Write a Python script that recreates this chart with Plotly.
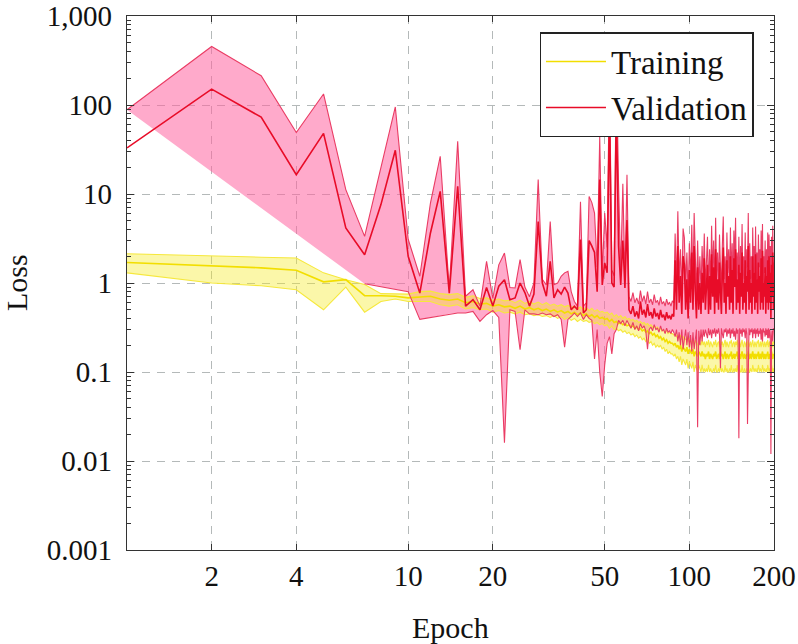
import plotly.graph_objects as go

epochs = list(range(1, 201))

train_mean = [
    1.70, 1.56, 1.48, 1.39, 1.03, 1.09, 0.72, 0.72, 0.71, 0.68,
    0.70, 0.71, 0.66, 0.64, 0.66, 0.60, 0.62, 0.58, 0.59, 0.55,
    0.57, 0.54, 0.55, 0.52, 0.55, 0.51, 0.53, 0.50, 0.52, 0.49,
    0.51, 0.48, 0.50, 0.47, 0.49, 0.46, 0.48, 0.45, 0.47, 0.44,
    0.46, 0.43, 0.45, 0.42, 0.44, 0.41, 0.43, 0.40, 0.41, 0.39,
    0.40, 0.37, 0.39, 0.36, 0.37, 0.35, 0.36, 0.34, 0.35, 0.33,
    0.34, 0.32, 0.33, 0.31, 0.32, 0.30, 0.31, 0.29, 0.30, 0.28,
    0.29, 0.27, 0.28, 0.26, 0.27, 0.25, 0.26, 0.24, 0.25, 0.23,
    0.24, 0.22, 0.23, 0.21, 0.22, 0.21, 0.21, 0.20, 0.21, 0.19,
    0.20, 0.18, 0.20, 0.17, 0.19, 0.18, 0.17, 0.19, 0.16, 0.18,
    0.17, 0.16, 0.18, 0.15, 0.17, 0.16, 0.15, 0.17, 0.16, 0.15,
    0.17, 0.15, 0.16, 0.14, 0.16, 0.15, 0.17, 0.14, 0.16, 0.15,
    0.14, 0.16, 0.15, 0.17, 0.14, 0.15, 0.16, 0.14, 0.17, 0.15,
    0.16, 0.14, 0.15, 0.17, 0.14, 0.16, 0.15, 0.14, 0.16, 0.15,
    0.17, 0.14, 0.15, 0.16, 0.14, 0.16, 0.15, 0.17, 0.14, 0.15,
    0.16, 0.14, 0.15, 0.17, 0.15, 0.14, 0.16, 0.15, 0.14, 0.16,
    0.15, 0.17, 0.14, 0.15, 0.16, 0.14, 0.15, 0.17, 0.15, 0.14,
    0.16, 0.15, 0.14, 0.16, 0.15, 0.17, 0.14, 0.15, 0.16, 0.14,
    0.15, 0.17, 0.15, 0.14, 0.16, 0.15, 0.14, 0.16, 0.15, 0.17,
    0.14, 0.15, 0.16, 0.14, 0.15, 0.17, 0.15, 0.14, 0.16, 0.15,
]

train_high = [
    2.13, 1.99, 1.95, 1.91, 1.30, 1.09, 0.96, 0.76, 0.76, 0.75,
    0.80, 0.81, 0.76, 0.74, 0.76, 0.69, 0.72, 0.67, 0.68, 0.64,
    0.66, 0.63, 0.64, 0.60, 0.64, 0.59, 0.62, 0.58, 0.61, 0.57,
    0.60, 0.56, 0.58, 0.55, 0.57, 0.54, 0.56, 0.53, 0.55, 0.51,
    0.54, 0.50, 0.53, 0.49, 0.52, 0.48, 0.50, 0.47, 0.48, 0.46,
    0.47, 0.44, 0.46, 0.42, 0.44, 0.41, 0.43, 0.40, 0.42, 0.39,
    0.40, 0.38, 0.39, 0.37, 0.38, 0.36, 0.37, 0.35, 0.36, 0.34,
    0.35, 0.33, 0.34, 0.32, 0.33, 0.31, 0.32, 0.30, 0.31, 0.29,
    0.30, 0.28, 0.29, 0.27, 0.28, 0.27, 0.27, 0.26, 0.27, 0.25,
    0.26, 0.24, 0.26, 0.23, 0.25, 0.24, 0.23, 0.25, 0.22, 0.24,
    0.23, 0.21, 0.24, 0.20, 0.23, 0.21, 0.20, 0.23, 0.21, 0.20,
    0.23, 0.20, 0.22, 0.19, 0.22, 0.20, 0.23, 0.19, 0.22, 0.20,
    0.19, 0.22, 0.20, 0.23, 0.19, 0.21, 0.22, 0.19, 0.23, 0.20,
    0.22, 0.19, 0.21, 0.23, 0.19, 0.22, 0.20, 0.19, 0.22, 0.21,
    0.23, 0.19, 0.21, 0.22, 0.19, 0.22, 0.20, 0.23, 0.19, 0.21,
    0.22, 0.19, 0.21, 0.23, 0.20, 0.19, 0.22, 0.21, 0.19, 0.22,
    0.20, 0.23, 0.19, 0.21, 0.22, 0.19, 0.21, 0.23, 0.20, 0.19,
    0.22, 0.20, 0.19, 0.22, 0.21, 0.23, 0.19, 0.20, 0.22, 0.19,
    0.21, 0.23, 0.20, 0.19, 0.22, 0.21, 0.19, 0.22, 0.20, 0.23,
    0.19, 0.21, 0.22, 0.19, 0.20, 0.23, 0.21, 0.19, 0.22, 0.21,
]

train_low = [
    1.30, 1.00, 0.93, 0.84, 0.50, 0.90, 0.47, 0.62, 0.66, 0.62,
    0.62, 0.62, 0.57, 0.55, 0.57, 0.51, 0.53, 0.50, 0.51, 0.47,
    0.49, 0.46, 0.47, 0.45, 0.47, 0.44, 0.45, 0.43, 0.44, 0.42,
    0.43, 0.41, 0.43, 0.40, 0.42, 0.39, 0.41, 0.38, 0.40, 0.37,
    0.39, 0.37, 0.38, 0.36, 0.37, 0.35, 0.36, 0.34, 0.35, 0.33,
    0.34, 0.31, 0.33, 0.30, 0.31, 0.29, 0.30, 0.28, 0.29, 0.27,
    0.28, 0.26, 0.27, 0.25, 0.26, 0.24, 0.25, 0.23, 0.24, 0.22,
    0.23, 0.21, 0.22, 0.20, 0.21, 0.19, 0.20, 0.19, 0.20, 0.18,
    0.19, 0.17, 0.18, 0.16, 0.17, 0.16, 0.16, 0.15, 0.16, 0.14,
    0.15, 0.13, 0.15, 0.12, 0.14, 0.13, 0.12, 0.14, 0.11, 0.13,
    0.12, 0.11, 0.13, 0.10, 0.12, 0.11, 0.10, 0.12, 0.11, 0.10,
    0.12, 0.10, 0.11, 0.10, 0.11, 0.10, 0.12, 0.10, 0.11, 0.10,
    0.10, 0.11, 0.10, 0.12, 0.10, 0.10, 0.11, 0.10, 0.12, 0.10,
    0.11, 0.10, 0.10, 0.12, 0.10, 0.11, 0.10, 0.10, 0.11, 0.10,
    0.12, 0.10, 0.10, 0.11, 0.10, 0.11, 0.10, 0.12, 0.10, 0.10,
    0.11, 0.10, 0.10, 0.12, 0.10, 0.10, 0.11, 0.10, 0.10, 0.11,
    0.10, 0.12, 0.10, 0.10, 0.11, 0.10, 0.10, 0.12, 0.10, 0.10,
    0.11, 0.10, 0.10, 0.11, 0.10, 0.12, 0.10, 0.10, 0.11, 0.10,
    0.10, 0.12, 0.10, 0.10, 0.11, 0.10, 0.10, 0.11, 0.10, 0.12,
    0.10, 0.10, 0.11, 0.10, 0.10, 0.12, 0.10, 0.10, 0.11, 0.10,
]

val_mean = [
    33, 151, 73, 16.5, 48, 4.15, 2.08, 7.6, 31, 2.0,
    0.77, 3.65, 10.7, 0.77, 12.2, 0.55, 0.65, 0.50, 0.89, 0.55,
    0.92, 1.09, 0.65, 0.68, 1.0, 0.78, 0.55, 0.75, 4.9, 1.0,
    0.71, 1.75, 0.68, 0.84, 0.75, 0.9, 0.77, 0.5, 0.55, 0.50,
    3.07, 0.46, 0.5, 3.0, 2.6, 2.2, 0.8, 14.5, 0.95, 1.68,
    1.3, 80, 1.0, 0.9, 100, 2.6, 0.95, 3.0, 0.88, 5.1,
    0.50, 0.45, 0.55, 0.42, 0.48, 0.40, 0.62, 0.44, 0.50, 0.41,
    0.58, 0.43, 0.47, 0.40, 0.52, 0.42, 0.46, 0.39, 0.50, 0.41,
    0.44, 0.38, 0.47, 0.40, 0.43, 0.39, 0.45, 0.42, 1.8, 0.5,
    2.6, 0.6, 1.2, 0.45, 2.0, 1.6, 0.5, 1.1, 0.4, 1.4,
    0.6, 2.2, 0.5, 2.6, 0.8, 0.4, 1.5, 0.5, 1.0, 0.45,
    1.3, 0.6, 1.9, 0.5, 0.9, 1.6, 0.45, 1.2, 0.5, 2.1,
    0.7, 1.5, 0.45, 2.4, 0.6, 1.1, 0.5, 1.7, 0.8, 0.45,
    1.3, 2.5, 0.6, 1.0, 0.45, 1.8, 0.7, 1.2, 0.5, 2.0,
    0.6, 1.4, 0.45, 1.9, 0.9, 2.4, 0.5, 1.1, 0.6, 1.6,
    0.45, 1.3, 0.7, 2.2, 0.5, 1.0, 0.6, 1.8, 0.45, 1.2,
    0.8, 2.6, 0.5, 1.4, 0.6, 1.0, 0.45, 2.0, 0.7, 1.3,
    0.5, 2.1, 0.6, 1.1, 0.45, 1.7, 0.8, 1.2, 0.5, 1.9,
    0.6, 2.3, 0.5, 1.0, 0.7, 1.5, 0.45, 1.2, 0.6, 1.8,
    0.5, 2.0, 0.6, 1.3, 0.4, 1.6, 0.7, 2.2, 0.5, 0.9,
]

val_high = [
    88.5, 455, 213, 49, 133, 11.2, 3.34, 19, 95, 3.1,
    1.19, 7.9, 26.5, 0.85, 39, 0.71, 0.84, 0.55, 1.75, 0.67,
    1.6, 2.17, 0.89, 0.88, 1.83, 0.9, 0.7, 1.0, 14.5, 1.1,
    0.95, 4.9, 0.96, 1.0, 1.19, 1.3, 1.35, 0.8, 0.62, 0.55,
    8.2, 0.55, 0.6, 9.4, 8.0, 6.1, 1.5, 44, 1.2, 6.1,
    2.5, 250, 1.4, 1.2, 300, 13, 1.3, 13, 1.1, 16.5,
    0.70, 0.62, 0.78, 0.60, 0.68, 0.58, 0.82, 0.62, 0.72, 0.58,
    0.80, 0.60, 0.66, 0.57, 0.74, 0.60, 0.64, 0.56, 0.70, 0.58,
    0.62, 0.55, 0.66, 0.57, 0.61, 0.55, 0.63, 0.60, 3.6, 0.9,
    6.4, 1.1, 2.4, 0.8, 4.1, 3.2, 0.9, 2.2, 0.7, 2.8,
    1.1, 4.5, 0.9, 6.1, 1.5, 0.7, 3.0, 0.9, 2.0, 0.8,
    2.6, 1.1, 3.6, 0.9, 1.7, 3.3, 0.8, 2.4, 0.9, 4.4,
    1.3, 3.0, 0.8, 5.4, 1.1, 2.2, 0.9, 3.5, 1.5, 0.8,
    2.6, 5.6, 1.1, 2.0, 0.8, 3.7, 1.3, 2.4, 0.9, 4.2,
    1.1, 2.8, 0.8, 3.9, 1.7, 5.4, 0.9, 2.2, 1.1, 3.3,
    0.8, 2.6, 1.3, 4.6, 0.9, 2.0, 1.1, 3.7, 0.8, 2.4,
    1.5, 6.1, 0.9, 2.8, 1.1, 2.0, 0.8, 4.2, 1.3, 2.6,
    0.9, 4.3, 1.1, 2.2, 0.8, 3.5, 1.5, 2.4, 0.9, 3.9,
    1.1, 4.6, 0.9, 2.0, 1.3, 3.0, 0.8, 2.4, 1.1, 3.7,
    0.9, 3.5, 1.1, 2.6, 0.7, 3.3, 1.3, 4.4, 0.9, 1.7,
]

val_low = [
    None, None, None, None, None, None, 0.98, 0.91, 0.85, 0.80,
    0.39, 0.41, 0.43, 0.45, 0.46, 0.46, 0.48, 0.37, 0.44, 0.49,
    0.41, 0.016, 0.5, 0.48, 0.178, 0.5, 0.45, 0.45, 0.44, 0.46,
    0.44, 0.45, 0.42, 0.44, 0.39, 0.19, 0.39, 0.42, 0.46, 0.42,
    0.46, 0.39, 0.44, 0.40, 0.38, 0.14, 0.3, 0.1, 0.053, 0.12,
    0.21, 0.25, 0.16, 0.27, 0.3, 0.38, 0.35, 0.38, 0.33, 0.38,
    0.34, 0.31, 0.36, 0.30, 0.33, 0.29, 0.35, 0.31, 0.33, 0.29,
    0.18, 0.30, 0.32, 0.29, 0.34, 0.30, 0.31, 0.28, 0.33, 0.29,
    0.30, 0.27, 0.31, 0.28, 0.29, 0.27, 0.30, 0.28, 0.25, 0.3,
    0.22, 0.28, 0.2, 0.3, 0.18, 0.22, 0.3, 0.2, 0.28, 0.19,
    0.26, 0.17, 0.28, 0.18, 0.25, 0.3, 0.024, 0.29, 0.2, 0.3,
    0.22, 0.3, 0.25, 0.3, 0.27, 0.24, 0.31, 0.26, 0.3, 0.24,
    0.3, 0.27, 0.31, 0.25, 0.3, 0.27, 0.31, 0.26, 0.11, 0.31,
    0.27, 0.24, 0.3, 0.28, 0.31, 0.25, 0.3, 0.27, 0.31, 0.24,
    0.3, 0.27, 0.31, 0.25, 0.29, 0.23, 0.31, 0.27, 0.3, 0.018,
    0.31, 0.27, 0.3, 0.25, 0.31, 0.28, 0.3, 0.24, 0.31, 0.27,
    0.026, 0.22, 0.31, 0.26, 0.3, 0.28, 0.31, 0.24, 0.3, 0.27,
    0.31, 0.24, 0.3, 0.27, 0.31, 0.25, 0.29, 0.27, 0.31, 0.23,
    0.3, 0.22, 0.31, 0.28, 0.29, 0.25, 0.31, 0.26, 0.3, 0.24,
    0.31, 0.24, 0.3, 0.26, 0.012, 0.25, 0.29, 0.22, 0.31, 0.3,
]

x_tick_values = [2, 4, 10, 20, 50, 100, 200]
x_tick_labels = ["2", "4", "10", "20", "50", "100", "200"]
y_tick_values = [0.001, 0.01, 0.1, 1, 10, 100, 1000]
y_tick_labels = ["0.001", "0.01", "0.1", "1", "10", "100", "1,000"]

for arr in (train_mean, train_high, train_low, val_mean, val_high, val_low):
    assert len(arr) == len(epochs), len(arr)


def band_polygon(xs, lo, hi):
    px = list(xs)
    py = list(hi)
    for x, v in reversed(list(zip(xs, lo))):
        if v is not None:
            px.append(x)
            py.append(v)
    return px, py


FONT = "Liberation Serif"
AXIS_COLOR = "#333333"
GRID_COLOR = "#b4b9b9"
TEXT_COLOR = "#111111"

fig = go.Figure()

vx, vy = band_polygon(epochs, val_low, val_high)
fig.add_trace(go.Scatter(x=vx, y=vy, mode="lines", fill="toself",
                         fillcolor="rgba(255,100,160,0.55)", line=dict(width=0),
                         hoverinfo="skip", showlegend=False))

tx, ty = band_polygon(epochs, train_low, train_high)
fig.add_trace(go.Scatter(x=tx, y=ty, mode="lines", fill="toself",
                         fillcolor="rgba(245,235,40,0.40)", line=dict(width=0),
                         hoverinfo="skip", showlegend=False))

for arr in (train_high, train_low):
    fig.add_trace(go.Scatter(x=epochs, y=arr, mode="lines",
                             line=dict(color="rgb(246,232,60)", width=1.1),
                             hoverinfo="skip", showlegend=False))

fig.add_trace(go.Scatter(x=epochs, y=train_mean, mode="lines", name="Training",
                         line=dict(color="rgb(242,222,0)", width=1.6)))

for arr in (val_high, val_low):
    fig.add_trace(go.Scatter(x=epochs, y=arr, mode="lines",
                             line=dict(color="rgb(234,60,100)", width=1.1),
                             connectgaps=False, hoverinfo="skip", showlegend=False))

fig.add_trace(go.Scatter(x=epochs, y=val_mean, mode="lines", name="Validation",
                         line=dict(color="rgb(232,12,40)", width=1.6)))

minor_y = [m * 10 ** e for e in range(-3, 3) for m in range(2, 10)]

fig.update_xaxes(
    type="log", range=[0, 2.30103], automargin=False,
    tickvals=x_tick_values, ticktext=x_tick_labels,
    ticks="inside", ticklen=6, tickcolor=AXIS_COLOR, tickwidth=1,
    showline=True, linecolor=AXIS_COLOR, linewidth=1.3, mirror="allticks",
    showgrid=True, gridcolor=GRID_COLOR, griddash="8px,7px", gridwidth=1,
    zeroline=False, tickfont=dict(family=FONT, size=29, color=TEXT_COLOR),
    ticklabelstandoff=0, ticklabeloverflow="allow",
)
fig.update_yaxes(
    type="log", range=[-3, 3], automargin=False,
    tickvals=y_tick_values, ticktext=y_tick_labels,
    ticks="inside", ticklen=7, tickcolor=AXIS_COLOR, tickwidth=1,
    minor=dict(tickvals=minor_y, ticks="inside", ticklen=4, tickcolor=AXIS_COLOR, showgrid=False),
    showline=True, linecolor=AXIS_COLOR, linewidth=1.3, mirror="allticks",
    showgrid=True, gridcolor=GRID_COLOR, griddash="8px,7px", gridwidth=1,
    zeroline=False, tickfont=dict(family=FONT, size=29, color=TEXT_COLOR),
    ticklabelstandoff=8, ticklabeloverflow="allow",
)

fig.update_layout(
    width=798, height=644,
    margin=dict(l=127, r=24, t=16, b=94),
    plot_bgcolor="white", paper_bgcolor="white",
    font=dict(family=FONT, size=29, color=TEXT_COLOR),
    legend=dict(x=0.9686, xanchor="right", y=0.9695, yanchor="top",
                bgcolor="white", bordercolor="#222", borderwidth=1.3,
                font=dict(family=FONT, size=33, color=TEXT_COLOR),
                itemwidth=60, tracegroupgap=0),
    annotations=[
        dict(text="Epoch", x=0.5, y=0, xref="paper", yref="paper",
             xanchor="center", yanchor="middle", yshift=-77, showarrow=False,
             font=dict(family=FONT, size=30, color=TEXT_COLOR)),
        dict(text="Loss", x=0, y=0.5, xref="paper", yref="paper",
             xanchor="center", yanchor="middle", xshift=-111, textangle=-90,
             showarrow=False, font=dict(family=FONT, size=30, color=TEXT_COLOR)),
    ],
    showlegend=True,
)

# remove the default 8px page margin so the 798x644 figure fills the window exactly
fig.write_html("out.html",
               config={"displayModeBar": False},
               post_script="document.body.style.margin='0';document.body.style.overflow='hidden';")
